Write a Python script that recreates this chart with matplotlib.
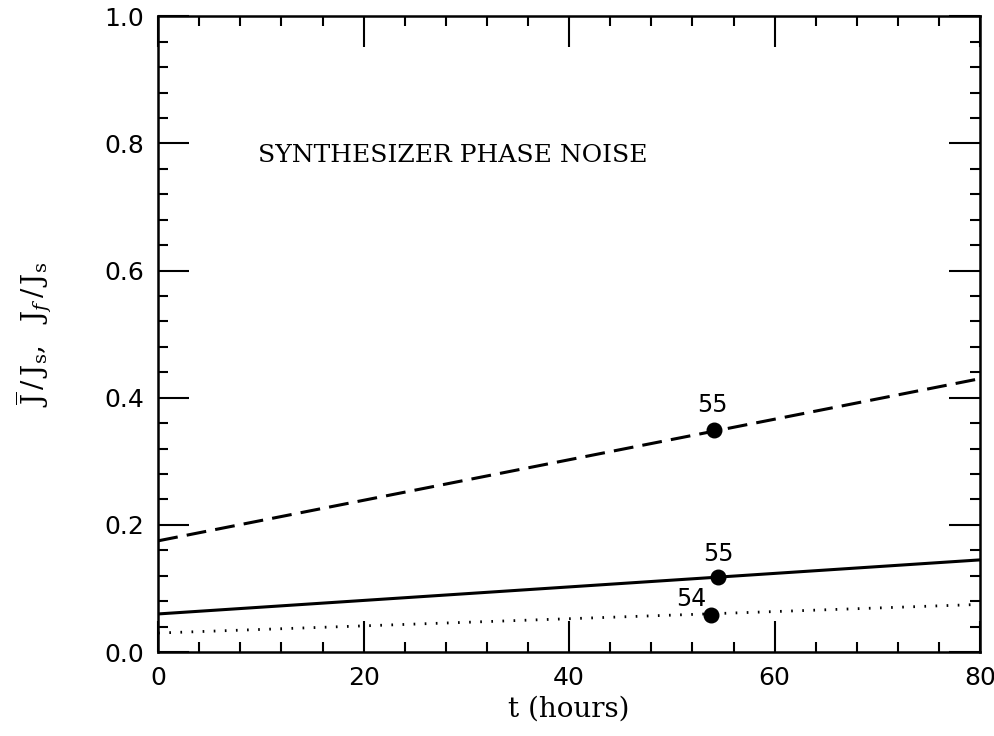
import numpy as np
import matplotlib.pyplot as plt
from matplotlib.ticker import MultipleLocator

plt.rcParams['mathtext.fontset'] = 'dejavuserif'

# datos
t_ends = [0, 80]
j_mean = [0.175, 0.430]    # discontinua
j_fast = [0.060, 0.145]    # continua
j_dot = [0.030, 0.075]     # punteada

pt_t = [54.1, 54.5, 53.8]
pt_y = [0.350, 0.118, 0.058]
pt_lab = ["55", "55", "54"]

x_ticks = [0, 20, 40, 60, 80]
y_ticks = [0.0, 0.2, 0.4, 0.6, 0.8, 1.0]

fig = plt.figure(figsize=(9.95, 7.36), dpi=100)
ax = fig.add_axes([0.159, 0.114, 0.826, 0.864])

ax.plot(t_ends, j_mean, color='black', lw=2.2, linestyle=(0, (6.5, 3)))
ax.plot(t_ends, j_fast, color='black', lw=2.2)
ax.plot(t_ends, j_dot, color='black', lw=2, linestyle=(0, (0.6, 3.4)))
ax.scatter(pt_t, pt_y, s=110, color='black', zorder=5)

ax.annotate(pt_lab[0], (pt_t[0], pt_y[0]), xytext=(-1, 9), textcoords='offset points',
            ha='center', va='bottom', fontsize=17)
ax.annotate(pt_lab[1], (pt_t[1], pt_y[1]), xytext=(0, 8), textcoords='offset points',
            ha='center', va='bottom', fontsize=17)
ax.annotate(pt_lab[2], (pt_t[2], pt_y[2]), xytext=(-3, 3), textcoords='offset points',
            ha='right', va='bottom', fontsize=17)

ax.text(0.122, 0.781, "SYNTHESIZER PHASE NOISE", transform=ax.transAxes,
        family='DejaVu Serif', fontsize=18, va='center', ha='left')

ax.set_xlim(0, 80)
ax.set_ylim(0, 1)
ax.set_xticks(x_ticks)
ax.set_xticklabels([str(v) for v in x_ticks])
ax.set_yticks(y_ticks)
ax.set_yticklabels(['%.1f' % v for v in y_ticks])
ax.xaxis.set_minor_locator(MultipleLocator(4))
ax.yaxis.set_minor_locator(MultipleLocator(0.04))
ax.tick_params(which='both', direction='in', top=True, right=True, labelsize=18, width=1.5)
ax.tick_params(which='major', length=22, pad=10)
ax.tick_params(which='minor', length=7)
for s in ax.spines.values():
    s.set_linewidth(1.8)

ax.set_xlabel("t (hours)", family='DejaVu Serif', fontsize=20, labelpad=4)
ax.set_ylabel(r"$\overline{\mathrm{J}}\,/\,\mathrm{J_s},\ \ \mathrm{J}_f\,/\,\mathrm{J_s}$",
              fontsize=20, labelpad=36)

fig.savefig("out.png", dpi=100)
